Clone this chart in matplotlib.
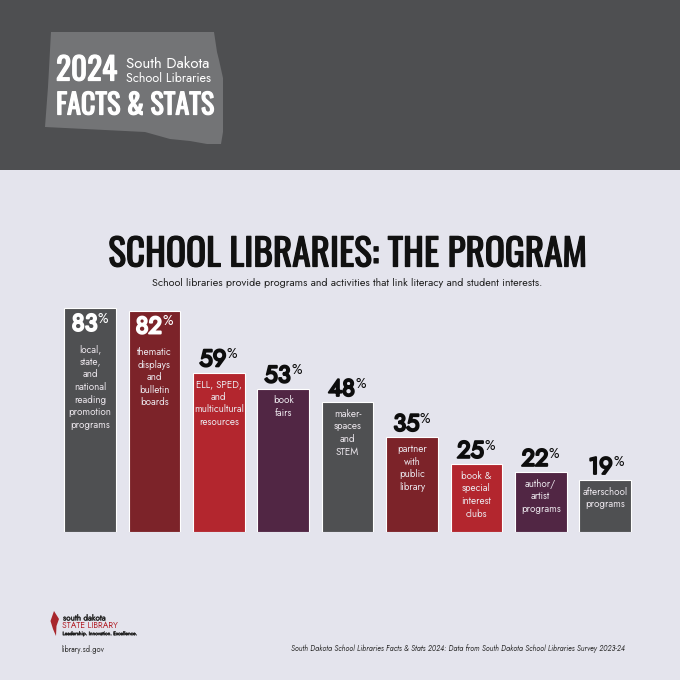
import matplotlib
matplotlib.use("Agg")
import matplotlib.pyplot as plt
import matplotlib.patheffects as pe
from matplotlib.patches import Polygon, Rectangle

# datos
values = [83, 82, 59, 53, 48, 35, 25, 22, 19]
labels = [
    "local,\nstate,\nand\nnational\nreading\npromotion\nprograms",
    "thematic\ndisplays\nand\nbulletin\nboards",
    "ELL, SPED,\nand\nmulticultural\nresources",
    "book\nfairs",
    "maker-\nspaces\nand\nSTEM",
    "partner\nwith\npublic\nlibrary",
    "book &\nspecial\ninterest\nclubs",
    "author/\nartist\nprograms",
    "afterschool\nprograms",
]
bar_colors = ["#4f5052", "#7c2329", "#b3262e", "#512644", "#4f5052",
              "#7c2329", "#b3262e", "#512644", "#4f5052"]
inside = [True, True, False, False, False, False, False, False, False]

BG = "#e4e4ed"
BAND = "#4e4f51"
BODY = ["Jost", "Lato", "DejaVu Sans"]
NARROW = ["Oswald", "Barlow Condensed", "Liberation Sans Narrow", "DejaVu Sans"]
PX = 0.72  # puntos por pixel a dpi 100


def heavy(width, color):
    # Oswald y Jost solo cargan su peso regular, se engruesan con un trazo
    return [pe.withStroke(linewidth=width, foreground=color)]


fig = plt.figure(figsize=(6.8, 6.8), dpi=100, facecolor=BG)

# capa de fondo en pixeles
bg = fig.add_axes([0, 0, 1, 1])
bg.set_xlim(0, 680)
bg.set_ylim(680, 0)
bg.axis("off")
bg.add_patch(Rectangle((0, 0), 680, 170, color=BAND, lw=0))

# silueta del estado
state = [(51, 32), (214, 32), (217, 52), (219, 60), (223, 78), (223, 110),
         (223, 132), (221, 144), (207, 144), (190, 141), (170, 139),
         (145, 132), (45, 127), (48, 87)]
bg.add_patch(Polygon(state, closed=True, color="#737476", lw=0))

bg.text(56, 71, "2024", family=NARROW, fontsize=22.5, color="white", va="center",
        path_effects=heavy(0.9, "white"))
bg.text(126.5, 64, "South Dakota", family=BODY, fontsize=10.8, color="white", va="center")
bg.text(126.5, 79, "School Libraries", family=BODY, fontsize=9, color="white", va="center")
bg.text(56, 105, "FACTS & STATS", family=NARROW, fontsize=20.3, color="white", va="center",
        path_effects=heavy(0.9, "white"))

bg.text(347.5, 255, "SCHOOL LIBRARIES: THE PROGRAM", family=NARROW,
        fontsize=26.8, color="#111111", ha="center", va="center",
        path_effects=heavy(0.9, "#111111"))
bg.text(347, 283, "School libraries provide programs and activities that link literacy and student interests.",
        family=BODY, fontsize=7.75, color="#222222", ha="center", va="center")

# logo
flame = [(54, 611), (59, 619), (56.5, 626), (56, 636), (53, 629), (50.5, 621)]
bg.add_patch(Polygon(flame, closed=True, color="#a8262c", lw=0))
bg.text(63, 618, "south dakota", family=BODY, fontsize=5.8, color="#222222", va="center",
        path_effects=heavy(0.2, "#222222"))
bg.text(62, 626, "STATE LIBRARY", family=BODY, fontsize=6.2, color="#b3262e", va="center")
bg.text(62.5, 634, "Leadership. Innovation. Excellence.", family=BODY,
        fontsize=3.6, color="#222222", va="center", path_effects=heavy(0.3, "#222222"))
bg.text(62, 649, "library.sd.gov", family=BODY, fontsize=5.4, color="#333333", va="center")
bg.text(625, 649, "South Dakota School Libraries Facts & Stats 2024: Data from South Dakota School Libraries Survey 2023-24",
        family=BODY, style="italic", fontsize=5.3, color="#333333", ha="right", va="center")

# barras: eje y en %, 2.69 px por punto
ax = fig.add_axes([25.6 / 680, 148.5 / 680, 644 / 680, 269 / 680])
ax.set_xlim(-1, 9)
ax.set_ylim(0, 100)
ax.axis("off")
ax.patch.set_alpha(0)
xs = list(range(len(values)))
ax.bar(xs, values, width=0.8, color=bar_colors, edgecolor="white", linewidth=0.8)

for x, v, lab, ins in zip(xs, values, labels, inside):
    num_dy = -16 if ins else 13
    num_col = "white" if ins else "#0d0d0d"
    ax.annotate(str(v), (x, v), xytext=(7.5 * PX, num_dy * PX), textcoords="offset points",
                family=BODY, fontsize=17, color=num_col, ha="right", va="center",
                path_effects=heavy(1.5, num_col))
    ax.annotate("%", (x, v), xytext=(8 * PX, (num_dy + 6) * PX), textcoords="offset points",
                family=BODY, fontsize=10, color=num_col, ha="left", va="center")
    first = 41 if ins else 11.5
    for k, line in enumerate(lab.split("\n")):
        ax.annotate(line, (x, v), xytext=(0, -(first + k * 12.6) * PX), textcoords="offset points",
                    family=BODY, fontsize=7.1, color="#e9e4ea", ha="center", va="center")

fig.savefig("out.png", dpi=100, facecolor=BG)
